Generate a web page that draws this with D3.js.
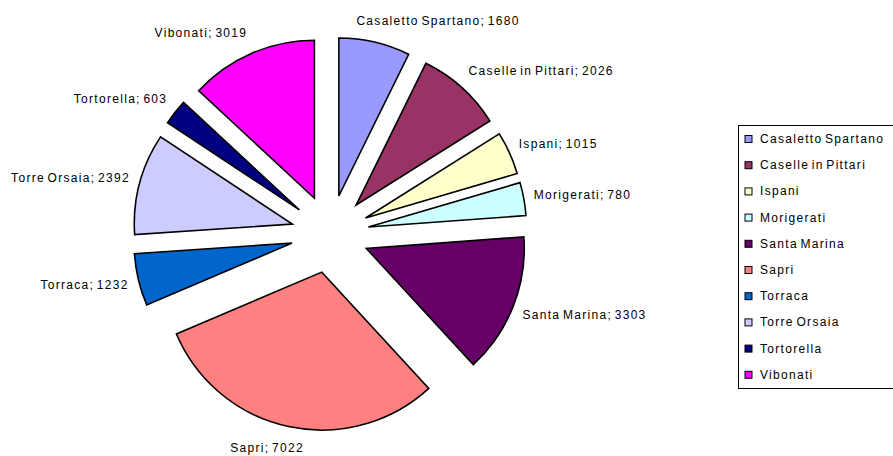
<!DOCTYPE html>
<html>
<head>
<meta charset="utf-8">
<script src="https://cdn.jsdelivr.net/npm/d3@7"></script>
<style>
  body { margin: 0; background: #fff; }
  text { font-family: "Liberation Sans", Arial, sans-serif; font-size: 12px; fill: #000;
         letter-spacing: 1.3px; word-spacing: -2px; }
</style>
</head>
<body>
<div id="container"></div>
<script>
// comuni and their population
var comuni = ["Casaletto Spartano", "Caselle in Pittari", "Ispani", "Morigerati", "Santa Marina",
              "Sapri", "Torraca", "Torre Orsaia", "Tortorella", "Vibonati"];
var abitanti = [1680, 2026, 1015, 780, 3303, 7022, 1232, 2392, 603, 3019];
var colori = ["#9999FF", "#993366", "#FFFFCC", "#CCFFFF", "#660066",
              "#FF8080", "#0066CC", "#CCCCFF", "#000080", "#FF00FF"];

var width = 893, height = 456;
var cx = 330, cy = 234, radius = 158, explode = 39;

var svg = d3.select("#container").append("svg")
  .attr("width", width)
  .attr("height", height);

var pie = d3.pie().sort(null).value(function(d){ return d; });
var arc = d3.arc().innerRadius(0).outerRadius(radius);

var slices = pie(abitanti);

var field = svg.append("g").attr("transform", "translate(" + cx + "," + cy + ")");

// each slice pushed out along its bisector
var dirOf = function(d){
  var a = (d.startAngle + d.endAngle) / 2;
  return { x: Math.sin(a), y: -Math.cos(a) };
};

field.selectAll("path")
  .data(slices)
  .enter()
  .append("path")
  .attr("d", arc)
  .attr("transform", function(d){
    var v = dirOf(d);
    return "translate(" + (v.x * explode) + "," + (v.y * explode) + ")";
  })
  .style("fill", function(d, i){ return colori[i]; })
  .style("stroke", "#000")
  .style("stroke-width", 1.6)
  .style("stroke-linejoin", "miter");

// labels outside the end of each slice
var labels = field.selectAll("text.lbl")
  .data(slices)
  .enter()
  .append("text")
  .attr("class", "lbl")
  .attr("text-anchor", "middle")
  .attr("dominant-baseline", "central")
  .text(function(d, i){ return comuni[i] + "; " + abitanti[i]; });

labels.each(function(d){
  var v = dirOf(d);
  var w = this.getBBox().width / 2;
  var h = 12, gap = 10;
  var r = radius + explode + gap;
  // upper labels slide sideways a bit more
  var f = v.y < 0 ? 3.3 : 2.5;
  var k = Math.max(-1, Math.min(1, v.x * f));
  var x = v.x * r + w * k;
  var y = v.y * r + h * v.y;
  d3.select(this).attr("x", x).attr("y", y);
});

// legend
var legend = svg.append("g").attr("transform", "translate(738,125)");
legend.append("rect")
  .attr("x", 0.5).attr("y", 0.5)
  .attr("width", 160).attr("height", 263)
  .style("fill", "#fff")
  .style("stroke", "#000")
  .style("stroke-width", 1);

var items = legend.selectAll("g.item")
  .data(comuni)
  .enter()
  .append("g")
  .attr("class", "item")
  .attr("transform", function(d, i){ return "translate(0," + (14 + i * 26.2) + ")"; });

items.append("rect")
  .attr("x", 7).attr("y", -3.5)
  .attr("width", 7).attr("height", 7)
  .style("fill", function(d, i){ return colori[i]; })
  .style("stroke", "#000")
  .style("stroke-width", 1);

items.append("text")
  .attr("x", 22)
  .attr("dominant-baseline", "central")
  .text(function(d){ return d; });
</script>
</body>
</html>
